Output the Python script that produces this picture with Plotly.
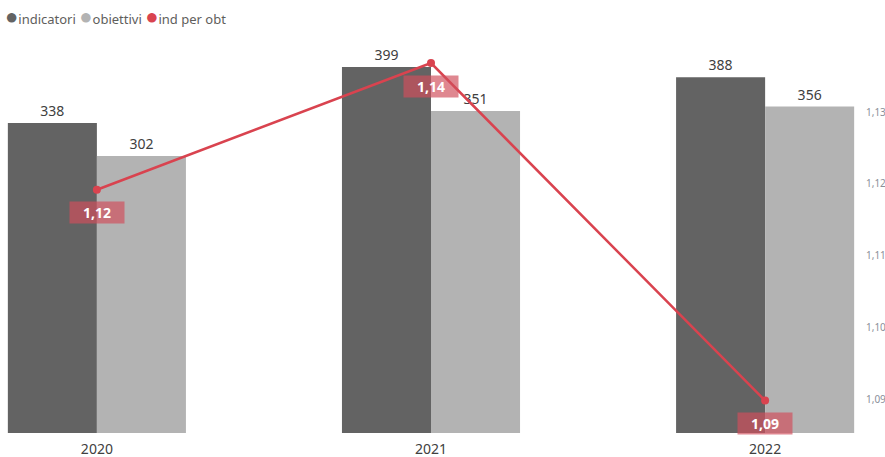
import plotly.graph_objects as go

years = ["2020", "2021", "2022"]
indicatori = [338, 399, 388]
obiettivi = [302, 351, 356]
ind_per_obt = [1.1192, 1.1368, 1.0899]
ratio_labels = ["1,12", "1,14", "1,09"]
series_names = ["indicatori", "obiettivi", "ind per obt"]

dark = "#636363"
light = "#B3B3B3"
red = "#D9434F"
font_family = "Segoe UI, Noto Sans, Open Sans, sans-serif"

xpos = list(range(len(years)))

fig = go.Figure()
fig.add_trace(go.Bar(x=xpos, y=indicatori, name=series_names[0], marker_color=dark,
                     marker_line_width=0,
                     text=[str(v) for v in indicatori], textposition="outside",
                     textfont=dict(size=14, color="#404040"), cliponaxis=False,
                     showlegend=False))
fig.add_trace(go.Bar(x=xpos, y=obiettivi, name=series_names[1], marker_color=light,
                     marker_line_width=0,
                     text=[str(v) for v in obiettivi], textposition="outside",
                     textfont=dict(size=14, color="#404040"), cliponaxis=False,
                     showlegend=False))
fig.add_trace(go.Scatter(x=xpos, y=ind_per_obt, name=series_names[2], yaxis="y2",
                         mode="lines+markers", line=dict(color=red, width=2.5),
                         marker=dict(size=8, color=red), showlegend=False,
                         cliponaxis=False))

for i, v, lab in zip(xpos, ind_per_obt, ratio_labels):
    fig.add_annotation(x=i, y=v, xref="x", yref="y2", text="<b>" + lab + "</b>",
                       showarrow=False, yshift=-23, width=50, height=17,
                       font=dict(size=14, color="white", family=font_family),
                       bgcolor="rgba(208,78,92,0.68)", borderpad=2)

# legend drawn as text with coloured circles
legend_cols = [dark, light, red]
legend_text = "".join(
    f"<span style='color:{c};font-size:22px'>●</span>{n} "
    for c, n in zip(legend_cols, series_names)
)
fig.add_annotation(x=0.004, y=1.0 + (35 - 15) / 398, xref="paper", yref="paper",
                   text=legend_text, showarrow=False, xanchor="left", yanchor="middle",
                   font=dict(size=13, color="#605E5C", family=font_family))

fig.update_layout(
    width=885, height=457,
    margin=dict(l=0, r=27, t=35, b=24, autoexpand=False),
    paper_bgcolor="white", plot_bgcolor="white",
    barmode="group", bargap=0.467, bargroupgap=0,
    separators=",.",
    showlegend=False,
    font=dict(family=font_family, color="#404040"),
    xaxis=dict(range=[-0.29, 2.278], showgrid=False, zeroline=False,
               showline=False, ticks="outside", ticklen=3, tickcolor="white",
               tickvals=xpos, ticktext=years,
               tickfont=dict(size=14, color="#404040")),
    yaxis=dict(range=[0, 434], visible=False, showgrid=False, zeroline=False),
    yaxis2=dict(range=[1.0854, 1.1407], overlaying="y", side="right",
                showgrid=False, zeroline=False, tickformat=".2f",
                ticks="outside", ticklen=5, tickcolor="white",
                tickvals=[1.09, 1.10, 1.11, 1.12, 1.13],
                tickfont=dict(size=10, color="#8a8f99")),
)

fig.write_html("out.html", config={"displayModeBar": False},
               post_script="document.body.style.margin='0';document.body.style.overflow='hidden';")
